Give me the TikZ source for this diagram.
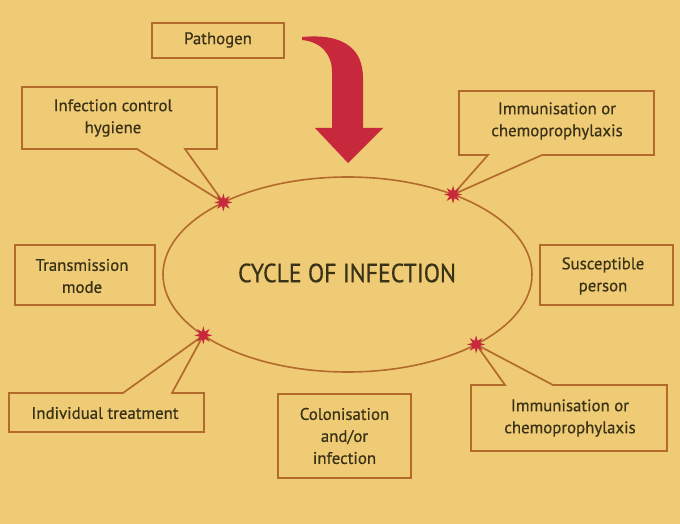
\documentclass[tikz,border=0pt]{standalone}
\usepackage{fontspec}
\setmainfont{PT Sans}
\usetikzlibrary{shapes.geometric,calc}
\definecolor{bg}{HTML}{EFCB76}
\definecolor{edge}{HTML}{B46A2C}
\definecolor{ink}{HTML}{3A3216}
\definecolor{burst}{HTML}{C8283C}
\tikzset{
  lbl/.style={text=ink, align=center, font=\fontsize{16.8}{22}\selectfont\addfontfeature{FakeBold=0.6}, inner sep=0pt},
  callout/.style={draw=edge, line width=1.7pt, fill=bg, line join=miter},
  starburst/.style={star, star points=8, star point ratio=2.3, fill=burst, draw=none, minimum size=18pt, inner sep=0pt},
}
\begin{document}
\begin{tikzpicture}[x=1pt, y=-1pt]
\fill[bg] (0,0) rectangle (680,524);
\useasboundingbox (0,0) rectangle (680,524);

% central ellipse
\coordinate (c) at (347.5,274.5);
\draw[edge, line width=1.6pt] (c) ellipse [x radius=184.5pt, y radius=97.5pt];
\node[text=ink, font=\fontsize{25}{28}\selectfont\addfontfeature{FakeBold=0.6}, inner sep=0pt] (cyc) at (347,273) {\scalebox{0.95}[1.05]{CYCLE OF INFECTION}};

% star points on the ellipse
\coordinate (s1) at ($(c)+(132.3:184.5pt and 97.5pt)$);
\coordinate (s2) at ($(c)+(55.1:184.5pt and 97.5pt)$);
\coordinate (s3) at ($(c)+(218.6:184.5pt and 97.5pt)$);
\coordinate (s4) at ($(c)+(-45.8:184.5pt and 97.5pt)$);

% plain boxes
\draw[callout] (152,23) rectangle (284,58);
\node[lbl] (path) at (218,40) {Pathogen};

\draw[callout] (15,245) rectangle (155,305);
\node[lbl] (trans) at (82,276) {Transmission\\mode};

\draw[callout] (540,245) rectangle (673,305);
\node[lbl] (susc) at (603,276) {Susceptible\\person};

\draw[callout] (278,394) rectangle (411,478);
\node[lbl] (colon) at (344.5,436) {Colonisation\\and/or\\infection};

% callouts
\draw[callout] (22,87) -- (217,87) -- (217,149) -- (185,149) -- (s1) -- (137,149) -- (22,149) -- cycle;
\node[lbl] (hyg) at (113,118) {Infection control\\hygiene};

\draw[callout] (459,91) -- (654,91) -- (654,155) -- (542,155) -- (s2) -- (488,155) -- (459,155) -- cycle;
\node[lbl] (imm1) at (557,121) {Immunisation or\\chemoprophylaxis};

\draw[callout] (9,393) -- (123,393) -- (s3) -- (172,393) -- (204,393) -- (204,432) -- (9,432) -- cycle;
\node[lbl] (indiv) at (105,413) {Individual treatment};

\draw[callout] (471,385) -- (505,385) -- (s4) -- (553,385) -- (667,385) -- (667,451) -- (471,451) -- cycle;
\node[lbl] (imm2) at (570,418) {Immunisation or\\chemoprophylaxis};

% star bursts
\node[starburst] (b1) at (s1) {};
\node[starburst] (b2) at (s2) {};
\node[starburst] (b3) at (s3) {};
\node[starburst] (b4) at (s4) {};

% red curved arrow
\fill[burst] (302,37) .. controls (345,33) and (363,50) .. (363,78) -- (363,128) -- (383,128) -- (348,163) -- (315,128) -- (332,128) -- (332,72) .. controls (332,55) and (322,42) .. (302,40) -- cycle;
\end{tikzpicture}
\end{document}
